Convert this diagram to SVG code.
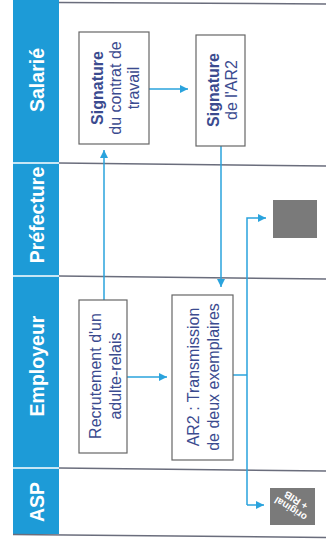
<svg xmlns="http://www.w3.org/2000/svg" width="326" height="542" viewBox="0 0 326 542">
<style>
.bg{fill:#ffffff}
.hdr{fill:#1d9bd7}
.hsep{stroke:#ffffff;stroke-width:1.5}
.lane{stroke:#6a6d7c;stroke-width:1.5;fill:none}
.htxt{font-family:"Liberation Sans",Arial,sans-serif;font-weight:bold;font-size:19.5px;fill:#ffffff;text-anchor:middle}
.box{fill:#ffffff;stroke:#666666;stroke-width:1.2}
.btxt{font-family:"Liberation Sans",Arial,sans-serif;font-size:16px;fill:#3b4b8f;text-anchor:middle}
.b{font-weight:bold}
.gray{fill:#7a7a7a}
.gtxt{font-family:"Liberation Sans",Arial,sans-serif;font-weight:bold;font-size:10px;fill:#ffffff;text-anchor:middle}
.conn{stroke:#2aa3dd;stroke-width:1.5;fill:none}
</style>
<defs>
<marker id="ah" viewBox="0 0 10 10" refX="10" refY="5" markerWidth="8" markerHeight="9" markerUnits="userSpaceOnUse" orient="auto">
<path d="M0,0 L10,5 L0,10 z" fill="#2aa3dd"/>
</marker>
</defs>
<rect class="bg" x="0" y="0" width="326" height="542"/>
<g id="lanes">
<rect class="hdr" x="13" y="0" width="46" height="534"/>
<line class="hsep" x1="13" y1="163" x2="59" y2="163"/>
<line class="hsep" x1="13" y1="276" x2="59" y2="276"/>
<line class="hsep" x1="13" y1="468" x2="59" y2="468"/>
<line class="lane" x1="59" y1="2.5" x2="326" y2="4"/>
<line class="lane" x1="59" y1="163" x2="326" y2="166"/>
<line class="lane" x1="59" y1="276" x2="326" y2="279"/>
<line class="lane" x1="59" y1="468" x2="326" y2="471"/>
<line class="lane" x1="13" y1="534.5" x2="326" y2="537.5"/>
<text class="htxt" transform="rotate(-90 37 80)" x="37" y="87">Salarié</text>
<text class="htxt" transform="rotate(-90 37 215)" x="37" y="222">Préfecture</text>
<text class="htxt" transform="rotate(-90 37 366)" x="37" y="373">Employeur</text>
<text class="htxt" transform="rotate(-90 37 502)" x="37" y="509">ASP</text>
</g>
<g id="connectors">
<path class="conn" d="M104,300 V150" marker-end="url(#ah)"/>
<path class="conn" d="M149,89 H188" marker-end="url(#ah)"/>
<path class="conn" d="M221,146 V287" marker-end="url(#ah)"/>
<path class="conn" d="M127,377 H167" marker-end="url(#ah)"/>
<path class="conn" d="M233,375 H247"/>
<path class="conn" d="M247,505 V218 H266" marker-end="url(#ah)"/>
<path class="conn" d="M247,505 H264" marker-end="url(#ah)"/>
</g>
<g id="n-signature-contrat">
<rect class="box" x="79" y="32" width="70" height="112"/>
<text class="btxt b" transform="rotate(-90 115 88)" x="115" y="75.5">Signature</text>
<text class="btxt" transform="rotate(-90 115 88)" x="115" y="93.5">du contrat de</text>
<text class="btxt" transform="rotate(-90 115 88)" x="115" y="111.5">travail</text>
</g>
<g id="n-signature-ar2">
<rect class="box" x="196" y="35" width="49" height="111"/>
<text class="btxt b" transform="rotate(-90 222 90)" x="222" y="86.5">Signature</text>
<text class="btxt" transform="rotate(-90 222 90)" x="222" y="104.5">de l'AR2</text>
</g>
<g id="n-recrutement">
<rect class="box" x="79" y="300" width="48" height="153"/>
<text class="btxt" transform="rotate(-90 105 376)" x="105" y="371.5">Recrutement d'un</text>
<text class="btxt" transform="rotate(-90 105 376)" x="105" y="391.5">adulte-relais</text>
</g>
<g id="n-ar2">
<rect class="box" x="172" y="295" width="61" height="165"/>
<text class="btxt" transform="rotate(-90 203 377)" x="203" y="372.5">AR2 : Transmission</text>
<text class="btxt" transform="rotate(-90 203 377)" x="203" y="392.5">de deux exemplaires</text>
</g>
<g id="n-prefecture-doc">
<rect class="gray" x="273" y="200" width="44" height="38"/>
</g>
<g id="n-asp-doc">
<rect class="gray" x="270" y="488" width="45" height="37"/>
<g transform="translate(293 505) rotate(212)">
<text class="gtxt" x="0" y="-1">original</text>
<text class="gtxt" x="0" y="9">+ RIB</text>
</g>
</g>
</svg>
